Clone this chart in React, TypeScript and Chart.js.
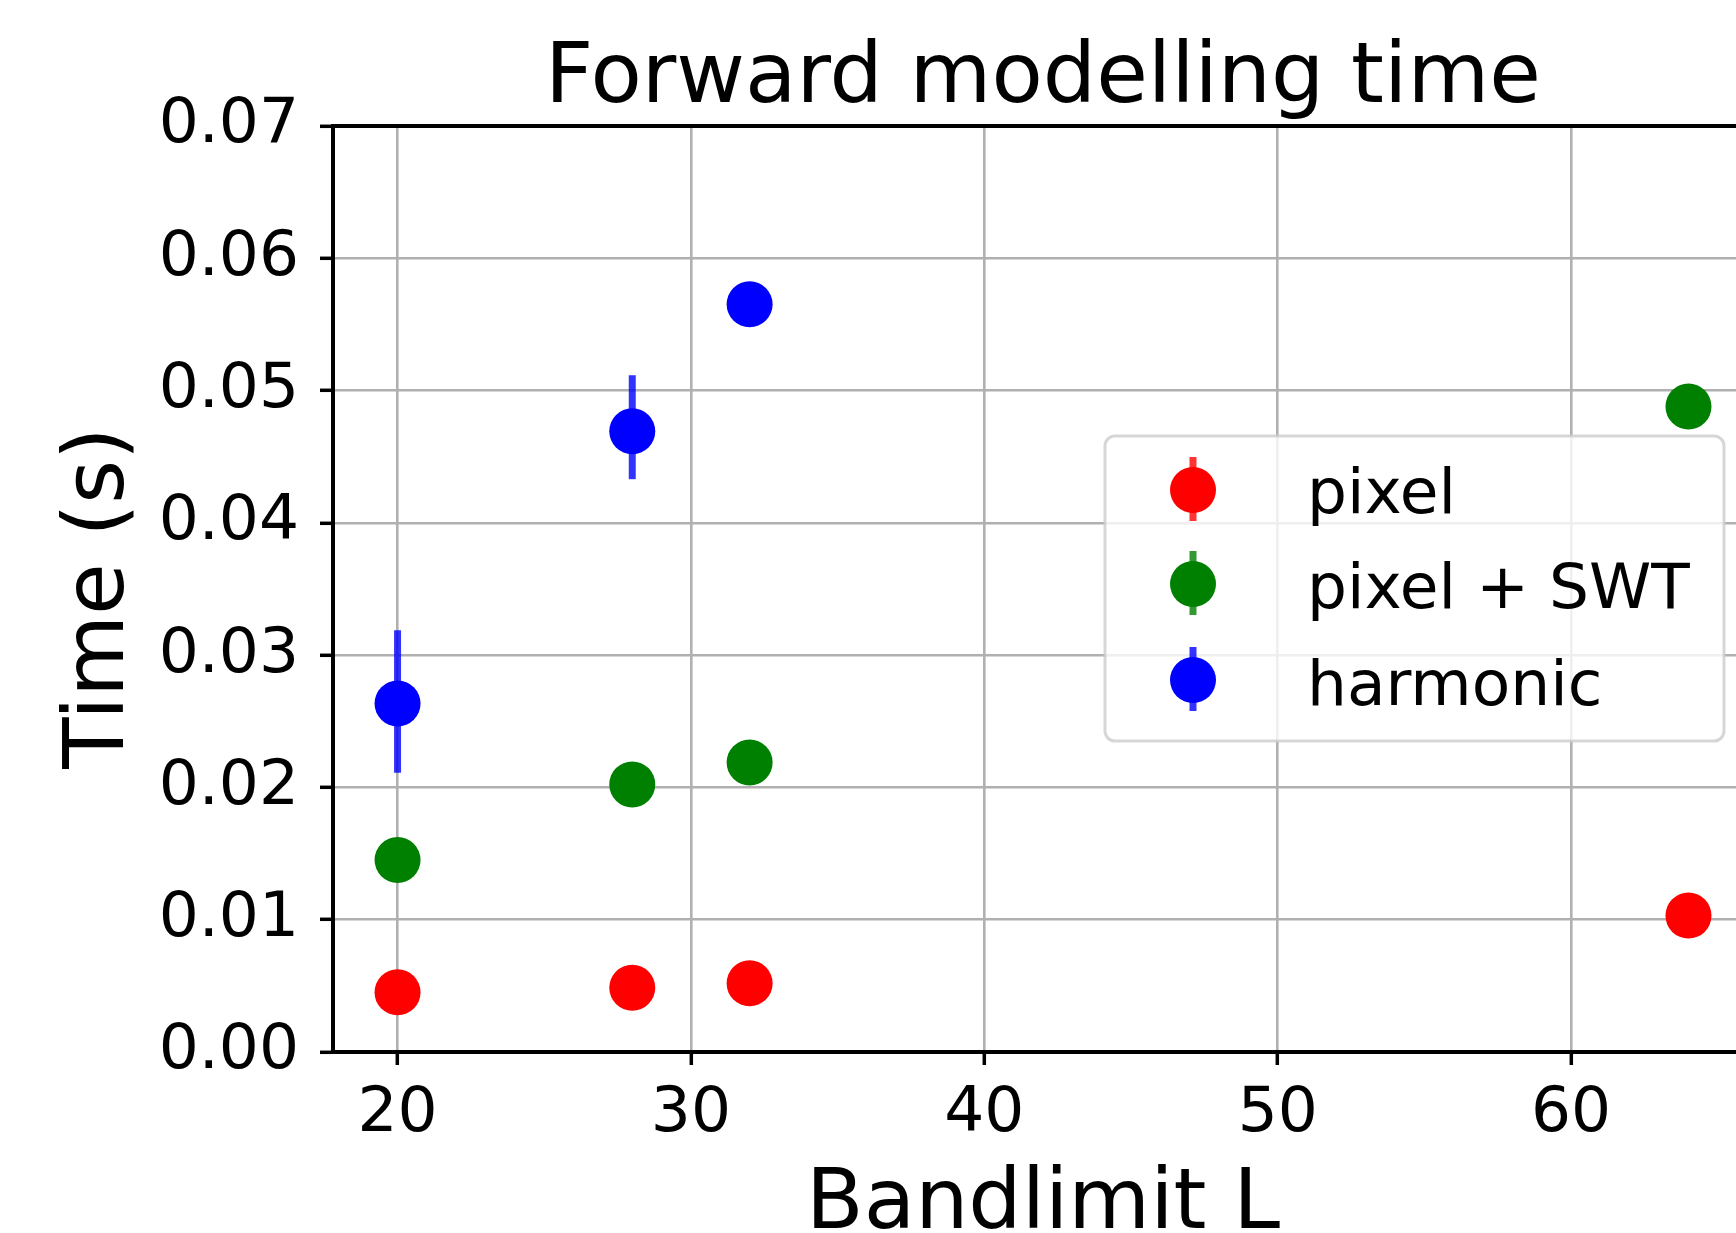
import React, { useEffect, useRef } from "react";
import { Chart, registerables } from "chart.js";

Chart.register(...registerables);

const FONT = '"DejaVu Sans", "Liberation Sans", sans-serif';

const titleText = "Forward modelling time";
const xAxisLabel = "Bandlimit L";
const yAxisLabel = "Time (s)";

const seriesLabels = ["pixel", "pixel + SWT", "harmonic"];
const seriesColors = ["#ff0000", "#008000", "#0000ff"];
const errorColors = ["rgba(255,0,0,0.8)", "rgba(0,128,0,0.8)", "rgba(0,0,255,0.8)"];

const pixelL = [20, 28, 32, 64];
const pixelTime = [0.00451, 0.00486, 0.00519, 0.01031];
const pixelErrUp = [0.0003, 0.0003, 0.0003, 0.0004];
const pixelErrDown = [0.0003, 0.0003, 0.0003, 0.0004];

const swtL = [20, 28, 32, 64];
const swtTime = [0.01451, 0.02023, 0.02189, 0.04879];
const swtErrUp = [0.0005, 0.0005, 0.0005, 0.0006];
const swtErrDown = [0.0005, 0.0005, 0.0005, 0.0006];

const harmonicL = [20, 28, 32];
const harmonicTime = [0.02635, 0.04693, 0.05653];
const harmonicErrUp = [0.00554, 0.00423, 0.0008];
const harmonicErrDown = [0.00524, 0.00363, 0.0008];

const xTicks = [20, 30, 40, 50, 60];
const yTicks = [0, 0.01, 0.02, 0.03, 0.04, 0.05, 0.06, 0.07];
const yTickLabels = ["0.00", "0.01", "0.02", "0.03", "0.04", "0.05", "0.06", "0.07"];

const xMin = 17.8;
const xMax = 65.62;
const yMin = 0;
const yMax = 0.07;

const xs = [pixelL, swtL, harmonicL];
const ys = [pixelTime, swtTime, harmonicTime];
const errUp = [pixelErrUp, swtErrUp, harmonicErrUp];
const errDown = [pixelErrDown, swtErrDown, harmonicErrDown];

const W = 1736;
const H = 1233;

const errorBarPlugin = {
  id: "errorBars",
  beforeDatasetsDraw(chart: any) {
    const ctx = chart.ctx;
    const xs_ = chart.scales.x;
    const ys_ = chart.scales.y;
    const a = chart.chartArea;
    ctx.save();
    ctx.beginPath();
    ctx.rect(a.left, a.top, a.right - a.left, a.bottom - a.top);
    ctx.clip();
    ctx.lineWidth = 7;
    ctx.lineCap = "butt";
    xs.forEach((xArr, i) => {
      ctx.strokeStyle = errorColors[i];
      xArr.forEach((xv, j) => {
        const px = xs_.getPixelForValue(xv);
        const top = ys_.getPixelForValue(ys[i][j] + errUp[i][j]);
        const bot = ys_.getPixelForValue(ys[i][j] - errDown[i][j]);
        ctx.beginPath();
        ctx.moveTo(px, top);
        ctx.lineTo(px, bot);
        ctx.stroke();
      });
    });
    ctx.restore();
  },
};

const decorPlugin = {
  id: "decor",
  afterDraw(chart: any) {
    const ctx = chart.ctx;
    const a = chart.chartArea;
    ctx.save();
    // top spine
    ctx.strokeStyle = "#000";
    ctx.lineWidth = 4;
    ctx.beginPath();
    ctx.moveTo(a.left - 2, a.top);
    ctx.lineTo(a.right, a.top);
    ctx.stroke();

    // legend
    const lx = 1105, ly = 436, lw = 619, lh = 305;
    ctx.beginPath();
    (ctx as any).roundRect(lx, ly, lw, lh, 10);
    ctx.fillStyle = "rgba(255,255,255,0.8)";
    ctx.fill();
    ctx.strokeStyle = "rgba(204,204,204,0.8)";
    ctx.lineWidth = 3;
    ctx.stroke();

    const rowY = [490, 584, 680];
    const baseY = [513, 608, 705];
    seriesLabels.forEach((lab, i) => {
      const mx = 1193;
      const my = rowY[i];
      ctx.strokeStyle = errorColors[i];
      ctx.lineWidth = 7;
      ctx.beginPath();
      ctx.moveTo(mx, my - 33);
      ctx.lineTo(mx, my + 31);
      ctx.stroke();
      ctx.fillStyle = seriesColors[i];
      ctx.beginPath();
      ctx.arc(mx, my, 23, 0, Math.PI * 2);
      ctx.fill();
      ctx.fillStyle = "#000";
      ctx.font = `63px ${FONT}`;
      ctx.textAlign = "left";
      ctx.textBaseline = "alphabetic";
      ctx.fillText(lab, 1307, baseY[i]);
    });

    // title
    ctx.fillStyle = "#000";
    ctx.font = `84px ${FONT}`;
    ctx.textAlign = "center";
    ctx.textBaseline = "alphabetic";
    ctx.fillText(titleText, 1043, 102);

    // x label
    ctx.fillText(xAxisLabel, 1043, 1228);

    // y label
    ctx.translate(123, 598);
    ctx.rotate(-Math.PI / 2);
    ctx.fillText(yAxisLabel, 0, 0);
    ctx.restore();
  },
};

export default function App() {
  const ref = useRef<HTMLCanvasElement | null>(null);

  useEffect(() => {
    if (!ref.current) return;
    const datasets = seriesLabels.map((lab, i) => ({
      label: lab,
      data: xs[i].map((xv, j) => ({ x: xv, y: ys[i][j] })),
      pointRadius: 23,
      pointHoverRadius: 23,
      pointBackgroundColor: seriesColors[i],
      pointBorderWidth: 0,
      borderColor: seriesColors[i],
      backgroundColor: seriesColors[i],
      showLine: false,
    }));
    const chart = new Chart(ref.current, {
      type: "scatter",
      data: { datasets },
      options: {
        animation: false,
        responsive: false,
        events: [],
        layout: { autoPadding: false, padding: { left: 0, right: 0, top: 126, bottom: 0 } },
        plugins: {
          legend: { display: false },
          tooltip: { enabled: false },
          title: { display: false },
        },
        scales: {
          x: {
            type: "linear",
            min: xMin,
            max: xMax,
            afterBuildTicks: (s: any) => {
              s.ticks = xTicks.map((v) => ({ value: v }));
            },
            afterFit: (s: any) => {
              s.height = H - 1052;
              s.paddingLeft = 0;
              s.paddingRight = 0;
            },
            ticks: {
              font: { family: FONT, size: 63 },
              color: "#000",
              padding: 12,
              maxRotation: 0,
              autoSkip: false,
              callback: (v: any) => String(v),
            },
            grid: {
              color: "#b0b0b0",
              lineWidth: 2.6,
              drawTicks: true,
              tickLength: 13,
              tickWidth: 3.5,
              tickColor: "#000",
            },
            border: { display: true, color: "#000", width: 4 },
          },
          y: {
            type: "linear",
            min: yMin,
            max: yMax,
            afterBuildTicks: (s: any) => {
              s.ticks = yTicks.map((v) => ({ value: v }));
            },
            afterFit: (s: any) => {
              s.width = 333;
            },
            ticks: {
              font: { family: FONT, size: 63 },
              color: "#000",
              padding: 21,
              autoSkip: false,
              callback: (v: any, idx: number) => yTickLabels[idx],
            },
            grid: {
              color: "#b0b0b0",
              lineWidth: 2.6,
              drawTicks: true,
              tickLength: 13,
              tickWidth: 3.5,
              tickColor: "#000",
            },
            border: { display: true, color: "#000", width: 4 },
          },
        },
      },
      plugins: [errorBarPlugin, decorPlugin],
    });
    return () => chart.destroy();
  }, []);

  return (
    <div style={{ position: "absolute", left: 0, top: 0, width: W, height: H, background: "#fff", overflow: "hidden" }}>
      <canvas ref={ref} width={W} height={H} style={{ display: "block", width: W, height: H }} />
    </div>
  );
}
